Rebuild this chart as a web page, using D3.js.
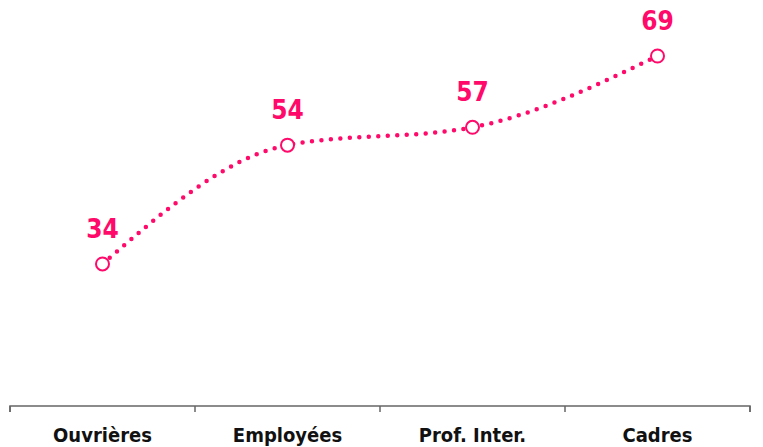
<!DOCTYPE html>
<html><head><meta charset="utf-8">
<script src="https://cdn.jsdelivr.net/npm/d3@7"></script>
<style>body{margin:0;background:#fff;} text{font-family:"DejaVu Sans Condensed","DejaVu Sans",sans-serif;}</style>
</head><body><svg id="c" width="763" height="447"></svg>
<script>
const categories = ["Ouvrières","Employées","Prof. Inter.","Cadres"];
const values = [34,54,57,69];
const color = "#ff0a6a";
const svg = d3.select("#c");
const x = d3.scaleBand().domain(categories).range([10,750]);
const y = d3.scaleLinear().domain([0,69]).range([466,56]);
const g = svg.append("g").attr("transform","translate(0,406)");
g.append("path").attr("d","M10,6V0H750V6").attr("fill","none").attr("stroke","#666").attr("stroke-width",1.5);
d3.range(categories.length+1).forEach(i=>{
  const xp = 10 + i*x.step();
  g.append("line").attr("x1",xp).attr("x2",xp).attr("y1",0).attr("y2",6).attr("stroke","#666").attr("stroke-width",1.5);
});
g.selectAll("text.cat").data(categories).enter().append("text").attr("class","cat")
 .attr("x",d=>x(d)+x.bandwidth()/2).attr("y",36).attr("text-anchor","middle")
 .attr("font-weight","bold").attr("font-size",20).attr("fill","#111").text(d=>d);
const pts = categories.map((c,i)=>[x(c)+x.bandwidth()/2, y(values[i])]);
svg.append("path").attr("d", d3.line().curve(d3.curveMonotoneX)(pts))
 .attr("fill","none").attr("stroke",color).attr("stroke-width",4.5)
 .attr("stroke-linecap","round").attr("stroke-dasharray","0 9.5");
svg.selectAll("circle").data(pts).enter().append("circle")
 .attr("cx",d=>d[0]).attr("cy",d=>d[1]).attr("r",6.5)
 .attr("fill","#fff").attr("stroke",color).attr("stroke-width",2);
svg.selectAll("text.val").data(values).enter().append("text").attr("class","val")
 .attr("x",(d,i)=>pts[i][0]).attr("y",(d,i)=>pts[i][1]-26).attr("text-anchor","middle")
 .attr("font-weight","bold").attr("font-size",26).attr("fill",color).text(d=>d);
</script></body></html>
